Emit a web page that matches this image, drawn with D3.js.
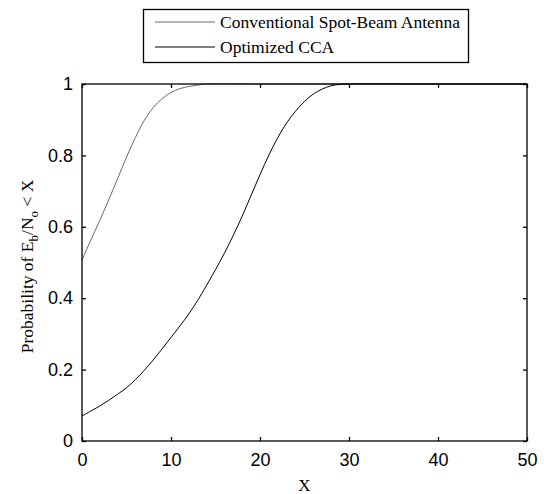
<!DOCTYPE html>
<html>
<head>
<meta charset="utf-8">
<script src="https://cdn.jsdelivr.net/npm/d3@7/dist/d3.min.js"></script>
<style>
  html, body { margin: 0; padding: 0; background: #fff; }
  svg { display: block; }
</style>
</head>
<body>
<svg id="chart" width="544" height="494"></svg>
<script>
// ---- data ----
const xConventional = [0,1,2,3,4,5,6,7,8,9,10,11,12,13,14,20,30,40,50];
const yConventional = [0.507,0.563,0.618,0.675,0.735,0.795,0.850,0.898,0.934,0.959,0.976,0.987,0.993,0.997,1.0,1.0,1.0,1.0,1.0];
const xOptimized = [0,1,2,3,4,5,6,7,8,9,10,11,12,13,14,15,16,17,18,19,20,21,22,23,24,25,26,27,28,29,30,40,50];
const yOptimized = [0.070,0.084,0.098,0.114,0.131,0.149,0.172,0.198,0.227,0.258,0.290,0.322,0.356,0.394,0.436,0.480,0.526,0.576,0.630,0.688,0.746,0.801,0.850,0.891,0.924,0.951,0.972,0.986,0.995,0.999,1.0,1.0,1.0];
const seriesNames = ["Conventional Spot-Beam Antenna", "Optimized CCA"];
const xTicks = [0,10,20,30,40,50];
const yTicks = [0,0.2,0.4,0.6,0.8,1];
const yTickLabels = ["0","0.2","0.4","0.6","0.8","1"];

// ---- layout ----
const W = 544, H = 494;
const m = {left: 82, top: 84, right: 17, bottom: 53};
const pw = W - m.left - m.right, ph = H - m.top - m.bottom;
const svg = d3.select("#chart");
const g = svg.append("g").attr("transform", `translate(${m.left},${m.top})`);

const x = d3.scaleLinear().domain([0,50]).range([0,pw]);
const y = d3.scaleLinear().domain([0,1]).range([ph,0]);

const tickFont = "Arial, 'Liberation Sans', sans-serif";
const serif = "'Times New Roman', 'Liberation Serif', serif";

// curves
const line = d3.line().x(d => x(d[0])).y(d => y(d[1])).curve(d3.curveCatmullRom.alpha(0.5));
const convData = xConventional.map((v,i) => [v, yConventional[i]]);
const optData = xOptimized.map((v,i) => [v, yOptimized[i]]);
g.append("path").datum(convData).attr("d", line)
  .attr("fill","none").attr("stroke","#6a6a6a").attr("stroke-width",1);
g.append("path").datum(optData).attr("d", line)
  .attr("fill","none").attr("stroke","#000").attr("stroke-width",1);

// axes
const tl = 4;
const bottomAxis = d3.axisBottom(x).tickValues(xTicks).tickSize(-tl).tickPadding(tl + 8).tickFormat(d3.format("d"));
const leftAxis = d3.axisLeft(y).tickValues(yTicks).tickSize(-tl).tickPadding(tl + 5).tickFormat((d,i) => yTickLabels[i]);
const topAxis = d3.axisTop(x).tickValues(xTicks).tickSize(-tl).tickFormat("");
const rightAxis = d3.axisRight(y).tickValues(yTicks).tickSize(-tl).tickFormat("");

function style(sel) {
  sel.select(".domain").remove();
  sel.selectAll(".tick line").attr("stroke","#000").attr("stroke-width",1.3);
  sel.selectAll(".tick text").attr("fill","#000").style("font-family", tickFont).style("font-size","18px");
}
g.append("g").attr("transform",`translate(0,${ph})`).call(bottomAxis).call(style);
g.append("g").call(leftAxis).call(style);
g.append("g").call(topAxis).call(style);
g.append("g").attr("transform",`translate(${pw},0)`).call(rightAxis).call(style);

// box
g.append("rect").attr("x",0).attr("y",0).attr("width",pw).attr("height",ph)
  .attr("fill","none").attr("stroke","#000").attr("stroke-width",1.3);

// axis labels
svg.append("text").attr("x", m.left + pw/2).attr("y", 491).attr("text-anchor","middle")
  .style("font-family", serif).style("font-size","17px").text("X");

const yl = svg.append("text").attr("transform",`translate(33,${m.top + ph/2 + 4}) rotate(-90)`)
  .attr("text-anchor","middle").style("font-family", serif).style("font-size","17.5px");
yl.append("tspan").text("Probability of E");
yl.append("tspan").attr("dy", 5).style("font-size","13px").text("b");
yl.append("tspan").attr("dy", -5).text("/N");
yl.append("tspan").attr("dy", 5).style("font-size","13px").text("o");
yl.append("tspan").attr("dy", -5).text(" < X");

// legend
const lg = svg.append("g");
lg.append("rect").attr("x",143.5).attr("y",9.5).attr("width",325).attr("height",53)
  .attr("fill","#fff").attr("stroke","#000").attr("stroke-width",1.3);
const legColors = ["#6a6a6a","#000"];
seriesNames.forEach((name,i) => {
  const yy = 22 + i*25;
  lg.append("line").attr("x1",155).attr("x2",215).attr("y1",yy).attr("y2",yy)
    .attr("stroke",legColors[i]).attr("stroke-width",1);
  lg.append("text").attr("x",220).attr("y",yy+6).style("font-family",serif)
    .style("font-size","17.5px").text(name);
});
</script>
</body>
</html>
